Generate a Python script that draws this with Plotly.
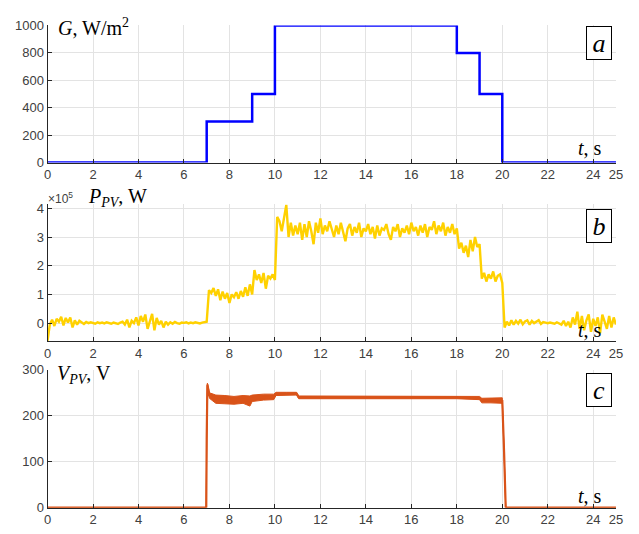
import plotly.graph_objects as go

# ---------------- data ----------------
# Irradiance steps (W/m^2)
g_time = [0, 7, 7, 9, 9, 10, 10, 18, 18, 19, 19, 20, 20, 25]
g_vals = [0, 0, 300, 300, 500, 500, 1000, 1000, 800, 800, 500, 500, 0, 0]

# PV power, sampled every 0.1 s (units of 1e5 W)
p_vals_e5 = [
    -0.62, -0.05, 0.12, -0.10, 0.15, 0.05, 0.22, -0.08, 0.18, 0.02,
    0.20, -0.15, 0.10, -0.05, 0.08, 0.02, -0.03, 0.04, 0.00, 0.03,
    0.01, -0.02, 0.03, 0.00, 0.02, -0.01, 0.03, 0.01, -0.02, 0.02,
    0.00, -0.03, 0.02, 0.05, -0.05, 0.12, -0.15, 0.08, 0.00, 0.20,
    -0.08, 0.25, 0.05, 0.30, -0.20, 0.10, 0.32, -0.25, 0.18, -0.05,
    0.08, -0.15, 0.05, -0.05, 0.03, -0.02, 0.04, 0.00, -0.02, 0.02,
    0.01, 0.03, -0.01, 0.02, 0.00, 0.03, 0.01, -0.01, 0.02, 0.04,
    0.05, 1.15, 1.05, 1.22, 0.95, 1.18, 0.80, 1.10, 0.85, 1.05,
    0.70, 1.00, 0.90, 1.08, 0.85, 1.12, 0.92, 1.25, 0.95, 1.35,
    1.00, 1.85, 1.50, 1.70, 1.40, 1.75, 1.20, 1.65, 1.55, 1.70,
    1.50, 3.70, 3.55, 3.20, 3.65, 4.12, 3.00, 3.50, 3.05, 3.40,
    3.10, 3.50, 2.90, 3.45, 3.00, 3.55, 3.20, 2.75, 3.50, 3.15,
    3.65, 3.10, 3.40, 3.20, 3.55, 3.25, 3.00, 3.40, 3.10, 3.50,
    3.20, 2.85, 3.30, 3.45, 3.05, 3.35, 3.15, 3.50, 3.00, 3.30,
    3.20, 3.45, 3.10, 3.35, 2.95, 3.40, 3.05, 3.30, 3.25, 3.45,
    3.10, 2.90, 3.35, 3.20, 3.45, 3.00, 3.30, 3.15, 3.40, 3.10,
    3.50, 3.20, 3.35, 3.05, 3.40, 3.15, 3.45, 3.00, 3.35, 3.25,
    3.55, 3.10, 3.40, 3.20, 3.50, 3.05, 3.35, 3.15, 3.45, 3.10,
    3.30, 2.60, 2.80, 2.45, 2.70, 2.30, 2.90, 2.50, 3.00, 2.65,
    2.75, 1.55, 1.75, 1.45, 1.70, 1.55, 1.80, 1.45, 1.65, 1.70,
    1.40, -0.15, 0.05, -0.08, 0.10, -0.05, 0.08, -0.02, 0.12, -0.04,
    0.06, 0.10, -0.05, 0.08, 0.00, 0.05, 0.10, -0.03, 0.04, 0.02,
    0.00, 0.02, 0.01, -0.02, 0.03, 0.00, -0.05, 0.08, -0.10, 0.05,
    -0.15, 0.20, -0.05, 0.40, -0.20, 0.25, -0.25, 0.10, 0.30, -0.30,
    0.15, -0.10, 0.20, -0.35, 0.30, 0.05, -0.20, 0.25, -0.15, 0.20,
    -0.05,
]
p_time = [i / 10 for i in range(len(p_vals_e5))]
p_vals = [v * 1e5 for v in p_vals_e5]

# PV voltage: centre line and ripple envelope (V)
v_time = [0.0, 6.98, 7.0, 7.03, 7.12, 7.4, 7.8, 8.2, 8.6, 8.9, 9.0, 9.5,
          9.95, 10.05, 10.5, 10.95, 11.05, 13.0, 15.0, 17.0, 18.0, 19.0,
          19.1, 19.5, 20.0, 20.08, 20.15, 25.0]
v_mid = [0, 0, 150, 268, 244, 236, 235, 234, 235, 232, 238, 240,
         241, 247, 248, 248, 240, 240, 240, 240, 240, 238,
         233, 233, 232, 120, 0, 0]
v_upper = [0, 0, 150, 271, 250, 245, 244, 242, 244, 243, 245, 247,
           247, 251, 251, 251, 243, 243, 243, 243, 243, 242,
           238, 239, 239, 120, 0, 0]
v_lower = [0, 0, 150, 265, 238, 227, 226, 225, 227, 221, 231, 234,
           235, 244, 245, 245, 237, 237, 237, 237, 237, 235,
           228, 228, 227, 120, 0, 0]

x_ticks = [0, 2, 4, 6, 8, 10, 12, 14, 16, 18, 20, 22, 24, 25]
p_ticks = [0, 1e5, 2e5, 3e5, 4e5]
p_tick_text = ["0", "1", "2", "3", "4"]

# ---------------- figure ----------------
W, H = 639, 534


def px(x):
    return x / W


def py(y):
    return 1 - y / H


blue = "#0000FF"
yellow = "#FFD100"
orange = "#D95319"
axis_col = "#262626"
grid_col = "#E3E3E3"
tick_font = dict(family="Liberation Sans, Arial, sans-serif", size=13, color="#404040")
serif = "Liberation Serif, Times New Roman, serif"

fig = go.Figure()
fig.add_trace(go.Scatter(x=g_time, y=g_vals, mode="lines",
                         line=dict(color=blue, width=2.5), xaxis="x", yaxis="y"))
fig.add_trace(go.Scatter(x=p_time, y=p_vals, mode="lines",
                         line=dict(color=yellow, width=2.4), xaxis="x2", yaxis="y2"))
fig.add_trace(go.Scatter(x=v_time + v_time[::-1], y=v_upper + v_lower[::-1],
                         mode="lines", fill="toself", fillcolor=orange,
                         line=dict(color=orange, width=1), xaxis="x3", yaxis="y3"))
fig.add_trace(go.Scatter(x=v_time, y=v_mid, mode="lines",
                         line=dict(color=orange, width=2.2), xaxis="x3", yaxis="y3"))

x_dom = [px(44.3), px(622.7)]
common_x = dict(range=[0, 25], tickvals=x_ticks, ticks="inside", ticklen=4,
                tickcolor=axis_col, showline=True, linecolor=axis_col, linewidth=1,
                showgrid=True, gridcolor=grid_col, gridwidth=1, zeroline=False,
                tickfont=tick_font, domain=x_dom)
common_y = dict(ticks="inside", ticklen=4, tickcolor=axis_col, showline=True,
                linecolor=axis_col, linewidth=1, showgrid=True, gridcolor=grid_col,
                gridwidth=1, zeroline=False, tickfont=tick_font)

fig.update_layout(
    width=W, height=H, margin=dict(l=0, r=0, t=0, b=0),
    paper_bgcolor="white", plot_bgcolor="white", showlegend=False,
    xaxis=dict(common_x, anchor="y"),
    yaxis=dict(common_y, anchor="x", range=[0, 1000],
               tickvals=[0, 200, 400, 600, 800, 1000],
               domain=[py(160), py(19)]),
    xaxis2=dict(common_x, anchor="y2"),
    yaxis2=dict(common_y, anchor="x2", range=[-0.634e5, 4.14e5],
                tickvals=p_ticks, ticktext=p_tick_text,
                domain=[py(344), py(203)]),
    xaxis3=dict(common_x, anchor="y3"),
    yaxis3=dict(common_y, anchor="x3", range=[0, 300],
                tickvals=[0, 100, 200, 300],
                domain=[py(515), py(373.3)]),
)

label_font = dict(family=serif, size=20, color="black")
annotations = [
    dict(text="<i>G</i>, W/m<sup>2</sup>", x=px(53), y=py(21),
         xanchor="left", yanchor="middle", font=label_font),
    dict(text="×10<sup>5</sup>", x=px(43), y=py(197), xanchor="left",
         yanchor="middle", font=dict(family="Liberation Sans, Arial, sans-serif",
                                     size=12, color="#404040")),
    dict(text="<i>P</i><sub><i>PV</i></sub>, W", x=px(83), y=py(196),
         xanchor="left", yanchor="middle", font=label_font),
    dict(text="<i>V</i><sub><i>PV</i></sub>, V", x=px(52), y=py(378),
         xanchor="left", yanchor="middle", font=label_font),
]
for yc in (145, 332.7, 503):
    annotations.append(dict(text="<i>t</i>, s", x=px(611), y=py(yc),
                            xanchor="right", yanchor="middle", font=label_font))
for letter, yc in (("a", 37.5), ("b", 225), ("c", 394.5)):
    annotations.append(dict(text=f"<i>{letter}</i>", x=px(605.3), y=py(yc),
                            xanchor="center", yanchor="middle",
                            width=24, height=32, borderpad=0,
                            bordercolor="black", borderwidth=1, bgcolor="white",
                            font=dict(family=serif, size=26, color="black")))
for a in annotations:
    a.update(xref="paper", yref="paper", showarrow=False)
fig.update_layout(annotations=annotations)

fig.write_html("out.html")
